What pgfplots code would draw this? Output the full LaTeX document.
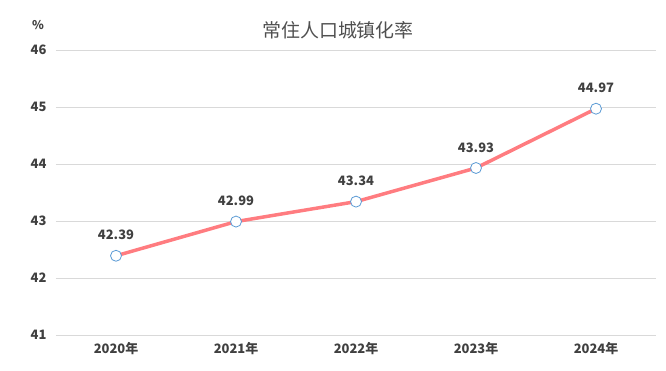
\documentclass[border=0pt]{standalone}
\usepackage{fontspec}
\setmainfont{Noto Sans CJK SC}
\usepackage{pgfplots}
\pgfplotsset{compat=1.18}
\definecolor{linec}{HTML}{FF7C80}
\definecolor{markc}{HTML}{5B9BD5}
\definecolor{txt}{HTML}{404040}
\definecolor{ttl}{HTML}{505050}
\definecolor{gridc}{HTML}{D9D9D9}
\begin{document}
\begin{tikzpicture}[x=1bp,y=1bp]
\useasboundingbox (-56,-35) rectangle (610,335);
\begin{axis}[
  anchor=south west, at={(0,0)},
  scale only axis, width=600bp, height=285bp,
  xmin=-0.5, xmax=4.5, ymin=41, ymax=46,
  xtick={0,1,2,3,4},
  xticklabels={2020年,2021年,2022年,2023年,2024年},
  ytick={41,42,43,44,45,46},
  axis line style={draw=none},
  major tick length=0pt,
  ymajorgrids, xmajorgrids=false,
  major grid style={draw=gridc, line width=0.8pt},
  tick label style={font=\bfseries\fontsize{13}{15}\selectfont, text=txt},
  /pgf/number format/assume math mode=true,
  yticklabel style={xshift=-6bp},
  xticklabel style={yshift=-4bp},
  clip=false,
  nodes near coords,
  every node near coord/.append style={font=\bfseries\fontsize{13}{15}\selectfont, text=txt, yshift=12bp},
  point meta=explicit symbolic,
]
\addplot[color=linec, line width=3.5pt, mark=*, mark size=5.5bp,
  mark options={fill=white, draw=markc, line width=0.8pt}]
  coordinates {(0,42.39)[42.39] (1,42.99)[42.99] (2,43.34)[43.34] (3,43.93)[43.93] (4,44.97)[44.97]};
\end{axis}
\node[font=\fontsize{19}{22}\selectfont, text=ttl] at (282,305) {常住人口城镇化率};
\node[font=\bfseries\fontsize{12}{14}\selectfont, text=txt] at (-18,310) {\%};
\end{tikzpicture}
\end{document}
